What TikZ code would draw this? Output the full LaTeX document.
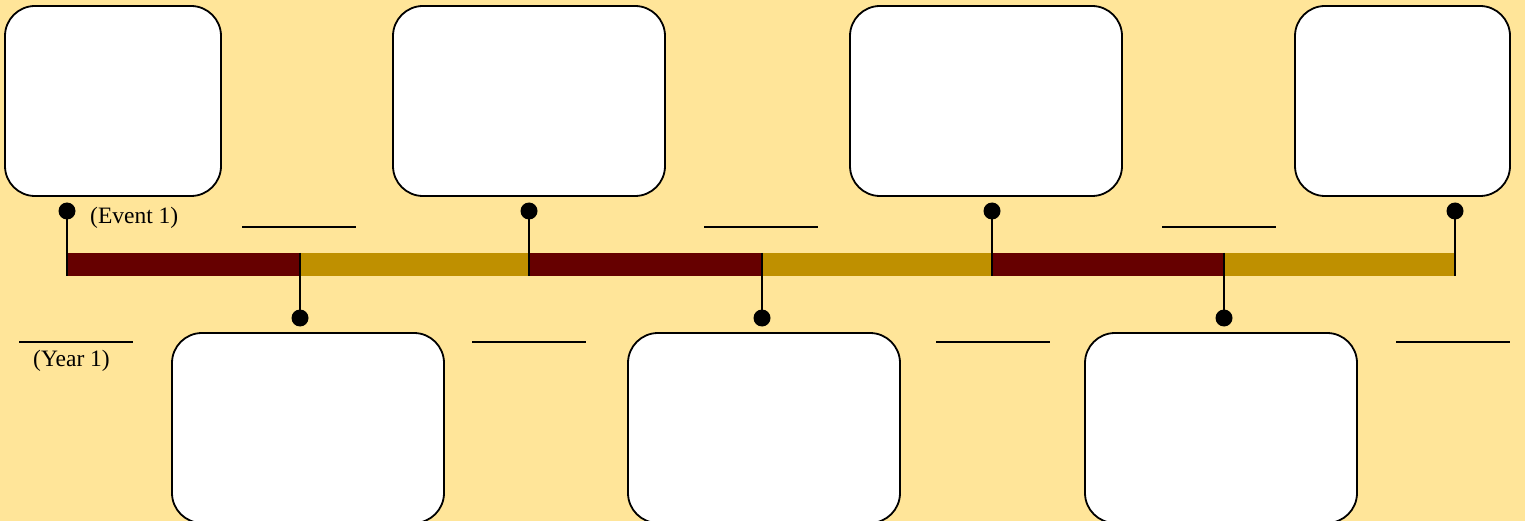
\documentclass[tikz,border=0pt]{standalone}
\usepackage{fontspec}
\setmainfont{Liberation Serif}
\definecolor{bg}{HTML}{FFE599}
\definecolor{darkseg}{HTML}{660000}
\definecolor{goldseg}{HTML}{BF9000}
\begin{document}
\begin{tikzpicture}[x=1pt,y=-1pt,
  card/.style={draw=black,line width=1.8pt,fill=white,rounded corners=30pt,inner sep=0pt,minimum height=190pt},
  dot/.style={circle,fill=black,inner sep=0pt,minimum size=17pt},
  stem/.style={line width=1.8pt,draw=black},
  blank/.style={line width=1.8pt,draw=black},
  seg/.style={inner sep=0pt,minimum height=23pt,draw=none},
  lbl/.style={font=\fontsize{23.5}{26}\selectfont,inner sep=0pt}]
\useasboundingbox (0,0) rectangle (1525,521);
\fill[bg] (0,0) rectangle (1525,521);
% bar segments
\node[seg,fill=darkseg,minimum width=233pt] (s1) at (183.5,264.5) {};
\node[seg,fill=goldseg,minimum width=229pt] (s2) at (414.5,264.5) {};
\node[seg,fill=darkseg,minimum width=233pt] (s3) at (645.5,264.5) {};
\node[seg,fill=goldseg,minimum width=230pt] (s4) at (877,264.5) {};
\node[seg,fill=darkseg,minimum width=232pt] (s5) at (1108,264.5) {};
\node[seg,fill=goldseg,minimum width=231pt] (s6) at (1339.5,264.5) {};
% top cards
\node[card,minimum width=216pt] (t1) at (113,101) {};
\node[card,minimum width=272pt] (t2) at (529,101) {};
\node[card,minimum width=272pt] (t3) at (986,101) {};
\node[card,minimum width=215pt] (t4) at (1402.5,101) {};
% bottom cards
\node[card,minimum width=272pt] (b1) at (308,428) {};
\node[card,minimum width=272pt] (b2) at (764,428) {};
\node[card,minimum width=272pt] (b3) at (1221,428) {};
% top dots and stems
\node[dot] (d1) at (67,211) {};
\node[dot] (d2) at (529,211) {};
\node[dot] (d3) at (992,211) {};
\node[dot] (d4) at (1455,211) {};
\draw[stem] (d1.center) -- (d1.center |- s1.south);
\draw[stem] (d2.center) -- (d2.center |- s3.south);
\draw[stem] (d3.center) -- (d3.center |- s5.south);
\draw[stem] (d4.center) -- (d4.center |- s6.south);
% bottom dots and stems
\node[dot] (e1) at (300,318) {};
\node[dot] (e2) at (762,318) {};
\node[dot] (e3) at (1224,318) {};
\draw[stem] (e1.center |- s2.north) -- (e1.center);
\draw[stem] (e2.center |- s4.north) -- (e2.center);
\draw[stem] (e3.center |- s6.north) -- (e3.center);
% blanks
\draw[blank] (242,227) -- (356,227);
\draw[blank] (704,227) -- (818,227);
\draw[blank] (1162,227) -- (1276,227);
\draw[blank] (19,342) -- (133,342);
\draw[blank] (472,342) -- (586,342);
\draw[blank] (936,342) -- (1050,342);
\draw[blank] (1396,342) -- (1510,342);
% labels
\node[lbl,anchor=west] (ev) at (90,218) {(Event 1)};
\node[lbl,anchor=west] (yr) at (33,361) {(Year 1)};
\end{tikzpicture}
\end{document}
